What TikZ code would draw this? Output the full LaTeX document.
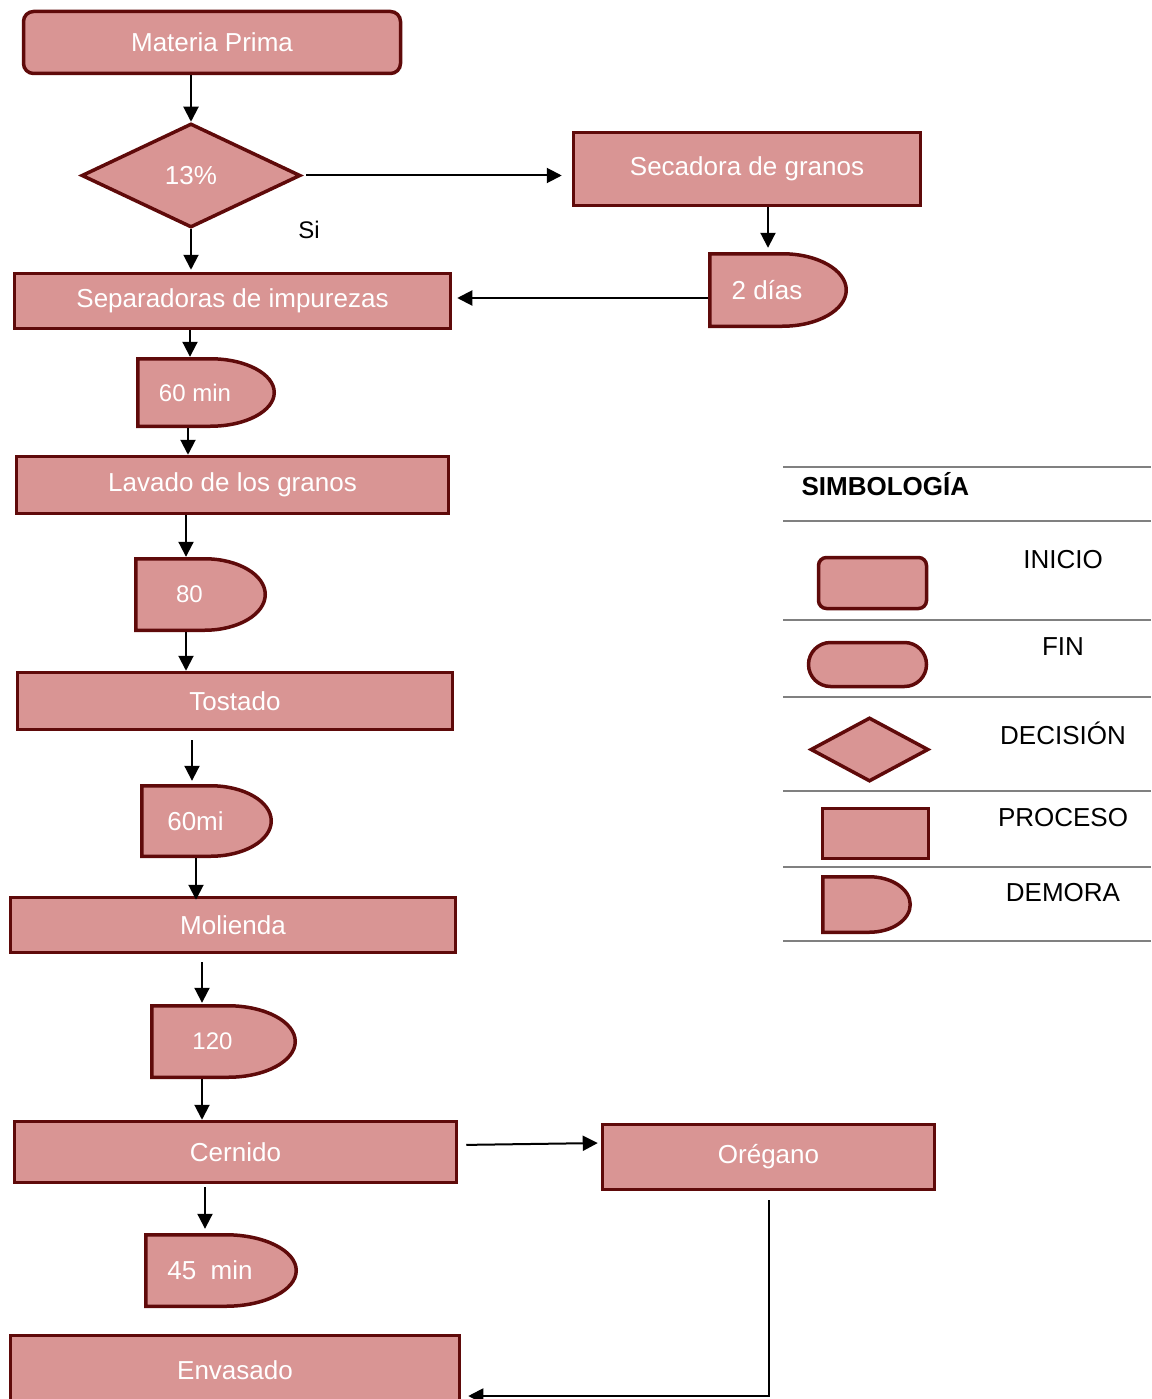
\documentclass[tikz,border=0pt]{standalone}
\usepackage{fontspec}
\setmainfont{Liberation Sans}
\usetikzlibrary{shapes.geometric}
\usetikzlibrary{arrows.meta}
\usetikzlibrary{calc}

\definecolor{rosa}{RGB}{217,149,148}
\definecolor{borde}{RGB}{95,10,10}
\definecolor{gris}{RGB}{128,128,128}

\tikzset{
  caja/.style={draw=borde, fill=rosa, line width=3.5pt, text=white,
    font=\fontsize{26}{31}\selectfont, inner sep=0pt},
  proceso/.style={caja, rectangle},
  inicio/.style={caja, rectangle, rounded corners=10pt},
  decision/.style={caja, diamond},
  demora/.style={rectangle, inner sep=0pt, text=white,
    font=\fontsize{26}{31}\selectfont,
    execute at end node={\hspace*{22pt}},
    path picture={
      \path[fill=rosa, draw=borde, line width=3.5pt]
        let \p1=(path picture bounding box.south west),
            \p2=(path picture bounding box.north east),
            \n1={0.47*(\x2-\x1)}, \n2={0.5*(\y2-\y1)-1.75pt}
        in (\x1+1.75pt,\y1+1.75pt) -- (\x1+1.75pt,\y2-1.75pt) -- (\x2-\n1*1pt,\y2-1.75pt)
           arc[start angle=90, end angle=-90, x radius={\n1*1pt-1.75pt}, y radius={\n2*1pt}]
           -- cycle;
    }},
  flecha/.style={-{Triangle[length=15pt,width=15pt]}, line width=2pt},
  raya/.style={draw=gris, line width=2pt},
  etiqueta/.style={font=\fontsize{26}{31}\selectfont}
}

\begin{document}
\begin{tikzpicture}[x=1pt, y=1pt]
    \useasboundingbox (0,0) rectangle (1151,-1399);
    \clip (0,0) rectangle (1151,-1399);
    % main column
    \node[inicio, minimum width=377pt, minimum height=62pt] (mp) at (212,-42.5) {Materia Prima};
    \node[decision, minimum width=219pt, minimum height=104pt] (hum) at (191,-175.5) {13\%};
    \node[proceso, minimum width=347pt, minimum height=73pt] (sec) at (747,-169) {Secadora de granos};
    \node[demora, minimum width=140pt, minimum height=76pt] (d2) at (778,-290) {2 días};
    \node[etiqueta, font=\fontsize{24}{29}\selectfont] (si) at (309,-230) {Si};
    \node[proceso, minimum width=436pt, minimum height=55pt] (sep) at (232.5,-301) {Separadoras de impurezas};
    \node[demora, font=\fontsize{24}{29}\selectfont, minimum width=140pt, minimum height=71pt] (d60) at (206,-392.5) {60 min};
    \node[proceso, minimum width=432pt, minimum height=57pt] (lav) at (232.5,-485) {Lavado de los granos};
    \node[demora, font=\fontsize{24}{29}\selectfont, minimum width=133pt, minimum height=75pt] (d80) at (200.5,-594.5) {80};
    \node[proceso, minimum width=435pt, minimum height=57pt] (tos) at (235,-701) {Tostado};
    \node[demora, minimum width=133pt, minimum height=74pt] (d60b) at (206.5,-821) {60mi};
    \node[proceso, minimum width=445pt, minimum height=55pt] (mol) at (233,-925) {Molienda};
    \node[demora, font=\fontsize{24}{29}\selectfont, minimum width=147pt, minimum height=75pt] (d120) at (223.5,-1041.5) {120};
    \node[proceso, minimum width=442pt, minimum height=61pt] (cer) at (235.5,-1152) {Cernido};
    \node[proceso, minimum width=332pt, minimum height=65pt] (ore) at (768.5,-1157) {Orégano};
    \node[demora, minimum width=154pt, minimum height=75pt] (d45) at (221,-1270.5) {45\ \ min};
    \node[proceso, minimum width=449pt, minimum height=69pt] (env) at (235,-1370) {Envasado};
    % connectors
    \draw[flecha] (mp.south -| hum.north) -- (hum.north);
    \draw[flecha, shorten <=4pt, shorten >=10pt] (hum.east) -- (hum.east -| sec.west);
    \draw[flecha, shorten >=4pt] ([xshift=21pt]sec.south) -- ([xshift=21pt]sec.south |- d2.north);
    \draw[flecha, shorten >=5pt] ([yshift=-8pt]d2.west) -- ([yshift=-8pt]d2.west -| sep.east);
    \draw[flecha, shorten >=2pt] (hum.south) -- (hum.south |- sep.north);
    \draw[flecha] ([xshift=-16pt]d60.north |- sep.south) -- ([xshift=-16pt]d60.north);
    \draw[flecha] ([xshift=-18pt]d60.south) -- ([xshift=-18pt]d60.south |- lav.north);
    \draw[flecha] ([xshift=-14.5pt]d80.north |- lav.south) -- ([xshift=-14.5pt]d80.north);
    \draw[flecha] ([xshift=-14.5pt]d80.south) -- ([xshift=-14.5pt]d80.south |- tos.north);
    \draw[flecha, shorten <=9pt, shorten >=3pt] ([xshift=-14.5pt]d60b.north |- tos.south) -- ([xshift=-14.5pt]d60b.north);
    \draw[flecha, shorten >=-4pt] ([xshift=-10.5pt]d60b.south) -- ([xshift=-10.5pt]d60b.south |- mol.north);
    \draw[flecha, shorten <=8pt, shorten >=1pt] ([xshift=-21.5pt]d120.north |- mol.south) -- ([xshift=-21.5pt]d120.north);
    \draw[flecha] ([xshift=-21.5pt]d120.south) -- ([xshift=-21.5pt]d120.south |- cer.north);
    \draw[flecha, shorten <=8pt, shorten >=3pt] ([yshift=7pt]cer.east) -- ([yshift=14pt]ore.west);
    \draw[flecha, shorten <=3pt, shorten >=4pt] ([xshift=-16pt]d45.north |- cer.south) -- ([xshift=-16pt]d45.north);
    \draw[flecha, shorten >=7pt] ([yshift=-9pt]ore.south) |- ([yshift=-26pt]env.east);
    % legend
    \foreach \y in {467,521,620,697,791,867,941}
        \draw[raya] (783,-\y) -- (1151,-\y);
    \node[etiqueta, anchor=west, font=\fontsize{26}{31}\selectfont\bfseries] (simb) at (798,-484) {SIMBOLOGÍA};
    \node[inicio, minimum width=108pt, minimum height=51pt, rounded corners=8pt] (lini) at (872.5,-583) {};
    \node[caja, rectangle, rounded corners=22pt, minimum width=118pt, minimum height=44pt] (lfin) at (867.5,-664.5) {};
    \node[decision, minimum width=118pt, minimum height=64pt] (ldec) at (869.5,-749.5) {};
    \node[proceso, minimum width=106pt, minimum height=50pt] (lpro) at (875.5,-833.5) {};
    \node[demora, minimum width=91pt, minimum height=59pt] (ldem) at (866.5,-904.5) {};
    \node[etiqueta] (tini) at (1063,-560) {INICIO};
    \node[etiqueta] (tfin) at (1063,-647) {FIN};
    \node[etiqueta] (tdec) at (1063,-733) {DECISIÓN};
    \node[etiqueta] (tpro) at (1063,-818) {PROCESO};
    \node[etiqueta] (tdem) at (1063,-893) {DEMORA};
\end{tikzpicture}
\end{document}
